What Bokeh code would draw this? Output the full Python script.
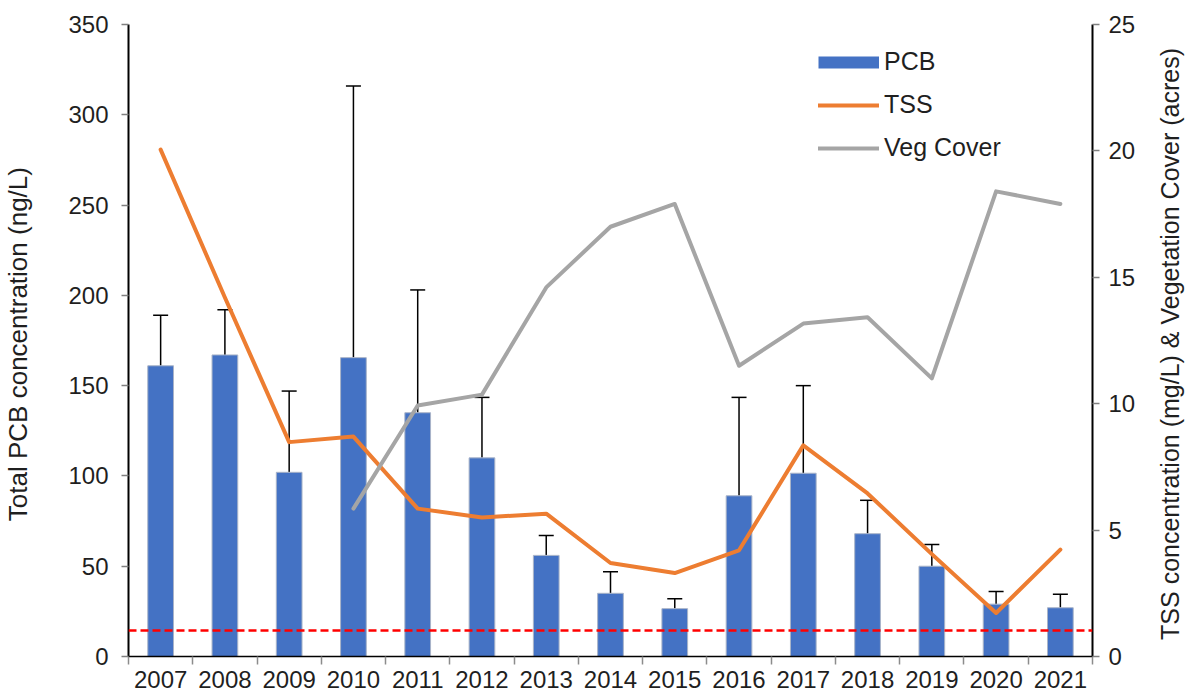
import math
from bokeh.plotting import figure
from bokeh.layouts import row
from bokeh.models import (Range1d, LinearAxis, FixedTicker, Span, Whisker, TeeHead,
                          ColumnDataSource, Legend, LegendItem)
from bokeh.embed import file_html
from bokeh.resources import INLINE

# ---------------- data ----------------
years = [2007, 2008, 2009, 2010, 2011, 2012, 2013, 2014, 2015, 2016, 2017, 2018, 2019, 2020, 2021]
pcb = [161, 167, 102, 165.5, 135, 110, 56, 35, 26.5, 89, 101.5, 68, 50, 29, 27]
pcb_err_top = [189, 192, 147, 316, 203, 143.5, 67, 47, 32, 143.5, 150, 86.5, 62, 36, 34.5]
tss = [20.05, 14.2, 8.48, 8.7, 5.85, 5.5, 5.65, 3.7, 3.3, 4.2, 8.35, 6.45, 4.05, 1.72, 4.23]
veg = [math.nan, math.nan, math.nan, 5.85, 9.93, 10.36, 14.6, 17.0, 17.9, 11.5, 13.17, 13.42, 11.0, 18.4, 17.9]
pcb_threshold = 14.4
left_ticks = [0, 50, 100, 150, 200, 250, 300, 350]
right_ticks = [0, 5, 10, 15, 20, 25]
axis_left_title = "Total  PCB concentration (ng/L)"
axis_right_title = "TSS concentration (mg/L) & Vegetation  Cover (acres)"

FONT = "Liberation Sans"
TXT = "#1f1f1f"

src = ColumnDataSource(dict(year=years, pcb=pcb, top=pcb_err_top, tss=tss, veg=veg))

p = figure(width=1143, height=694, output_backend="svg", toolbar_location=None,
           x_range=Range1d(years[0] - 0.5, years[-1] + 0.5),
           y_range=Range1d(left_ticks[0], left_ticks[-1]),
           min_border_left=128, min_border_right=51, min_border_top=24, min_border_bottom=38,
           x_axis_location=None, y_axis_location=None)
p.outline_line_color = None
p.xgrid.grid_line_color = None
p.ygrid.grid_line_color = None
p.background_fill_color = "white"
p.border_fill_color = "white"

p.extra_y_ranges = {"right": Range1d(right_ticks[0], right_ticks[-1])}

# axes
xaxis = LinearAxis(ticker=FixedTicker(ticks=years, minor_ticks=[y - 0.5 for y in years] + [years[-1] + 0.5]))
xaxis.axis_line_color = "black"
xaxis.axis_line_width = 1.5
xaxis.major_tick_line_color = None
xaxis.major_tick_out = 0
xaxis.major_tick_in = 0
xaxis.minor_tick_line_color = "#8c8c8c"
xaxis.minor_tick_line_width = 1.5
xaxis.minor_tick_out = 8
xaxis.minor_tick_in = 0
xaxis.major_label_standoff = 6
xaxis.major_label_text_font = FONT
xaxis.major_label_text_font_size = "24px"
xaxis.major_label_text_color = TXT
p.add_layout(xaxis, "below")

laxis = LinearAxis(ticker=FixedTicker(ticks=left_ticks))
laxis.axis_label = axis_left_title
raxis = LinearAxis(y_range_name="right", ticker=FixedTicker(ticks=right_ticks))
for ax in (laxis, raxis):
    ax.axis_line_color = "black"
    ax.axis_line_width = 2
    ax.major_tick_line_color = "#808080"
    ax.major_tick_line_width = 1.5
    ax.major_tick_out = 7
    ax.major_tick_in = 0
    ax.minor_tick_line_color = None
    ax.major_label_text_font = FONT
    ax.major_label_text_font_size = "24px"
    ax.major_label_text_color = TXT
    ax.axis_label_text_font = FONT
    ax.axis_label_text_font_size = "26px"
    ax.axis_label_text_font_style = "normal"
    ax.axis_label_text_color = TXT
laxis.major_label_standoff = 13
laxis.axis_label_standoff = 32
raxis.major_label_standoff = 9
p.add_layout(laxis, "left")
p.add_layout(raxis, "right")

# bars
bars = p.vbar(x="year", top="pcb", width=0.4, source=src, fill_color="#4472C4",
              line_color="#a9b4c8", line_width=1)

# error bars (upper only)
wh = Whisker(base="year", lower="pcb", upper="top", source=src, dimension="height",
             line_color="black", line_width=1.5,
             upper_head=TeeHead(size=15, line_color="black", line_width=1.5), lower_head=None)
p.add_layout(wh)

# threshold line
p.add_layout(Span(location=pcb_threshold, dimension="width", line_color="#ff0000",
                  line_width=2.5, line_dash="8 4"))

# lines on right axis
tss_r = p.line(x="year", y="tss", source=src, y_range_name="right", line_color="#ED7D31",
               line_width=4, line_join="round", line_cap="round")
veg_r = p.line(x="year", y="veg", source=src, y_range_name="right", line_color="#A5A5A5",
               line_width=4, line_join="round", line_cap="round")

# legend proxy for bar patch
pcb_proxy = p.line(x=[math.nan], y=[math.nan], line_color="#4472C4", line_width=12, line_cap="butt")

legend = Legend(items=[LegendItem(label="PCB", renderers=[pcb_proxy]),
                       LegendItem(label="TSS", renderers=[tss_r]),
                       LegendItem(label="Veg Cover", renderers=[veg_r])],
                location=(690, 494), orientation="vertical",
                glyph_width=61, glyph_height=22, label_height=22, spacing=14,
                label_standoff=5, padding=0, margin=0,
                border_line_color=None, background_fill_alpha=0,
                label_text_font=FONT, label_text_font_size="25px", label_text_color=TXT)
p.add_layout(legend)

# narrow strip carrying the right-hand axis title (reads bottom-to-top)
side = figure(width=44, height=694, output_backend="svg", toolbar_location=None,
              x_range=Range1d(0, 1), y_range=Range1d(0, 1),
              min_border_left=43, min_border_right=0, min_border_top=24, min_border_bottom=38,
              x_axis_location=None, y_axis_location=None)
side.outline_line_color = None
side.xgrid.grid_line_color = None
side.ygrid.grid_line_color = None
side.border_fill_color = "white"
side.background_fill_color = "white"
tax = LinearAxis(ticker=FixedTicker(ticks=[]))
tax.axis_label = axis_right_title
tax.axis_line_color = None
tax.major_tick_line_color = None
tax.minor_tick_line_color = None
tax.major_tick_out = 0
tax.major_label_standoff = 0
tax.axis_label_standoff = 3
tax.axis_label_text_font = FONT
tax.axis_label_text_font_size = "25px"
tax.axis_label_text_font_style = "normal"
tax.axis_label_text_color = TXT
side.add_layout(tax, "left")

open("out.html", "w").write(file_html(row(p, side), INLINE))
